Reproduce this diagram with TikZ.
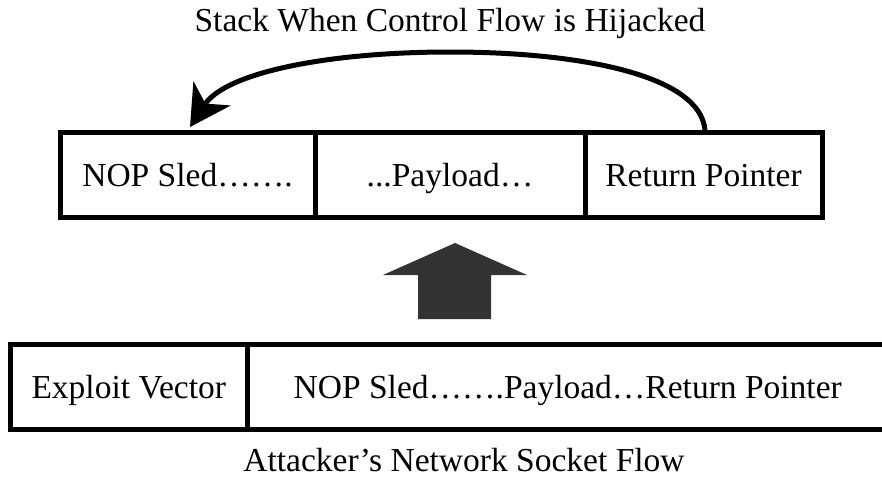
\documentclass[tikz,border=0pt]{standalone}
\usepackage{fontspec}
\setmainfont{Liberation Serif}
\usetikzlibrary{arrows.meta}
\begin{document}
\begin{tikzpicture}[x=1pt, y=-1pt, >=Stealth,
  cell/.style={draw, line width=5pt, minimum height=85pt, inner sep=0pt,
    text height=22.2pt, text depth=0pt, font=\fontsize{33.5}{40}\selectfont},
  capt/.style={inner sep=0pt, anchor=base, font=\fontsize{33.5}{40}\selectfont}]
  \useasboundingbox (0,0) rectangle (882,479);
  \node[capt] (title) at (450,31) {Stack When Control Flow is Hijacked};

  % stack
  \node[cell, minimum width=255pt] (sled) at (187.5,175) {NOP Sled…….};
  \node[cell, minimum width=270pt] (payload) at (450,175) {...Payload…};
  \node[cell, minimum width=237pt] (ret) at (703.5,175) {Return Pointer};

  \draw[line width=5pt, -{Stealth[length=40pt, width=44pt, inset=12pt]}]
    ([xshift=1.5pt]ret.north) .. controls (700,75) and (580,52) .. (450,52)
    .. controls (330,52) and (226,72) .. ([xshift=2.5pt, yshift=3pt]sled.north);

  % block arrow
  \fill[black!80] (418,319) -- (418,275) -- (383,275) -- (455,243)
    -- (527,275) -- (491,275) -- (491,319) -- cycle;

  % socket flow
  \node[cell, minimum width=237.5pt] (exploit) at (128.75,387) {Exploit Vector};
  \node[cell, minimum width=640.5pt] (flow) at (567.75,387) {NOP Sled…….Payload…Return Pointer};
  \node[capt] (caption) at (464,471) {Attacker’s Network Socket Flow};
\end{tikzpicture}
\end{document}
